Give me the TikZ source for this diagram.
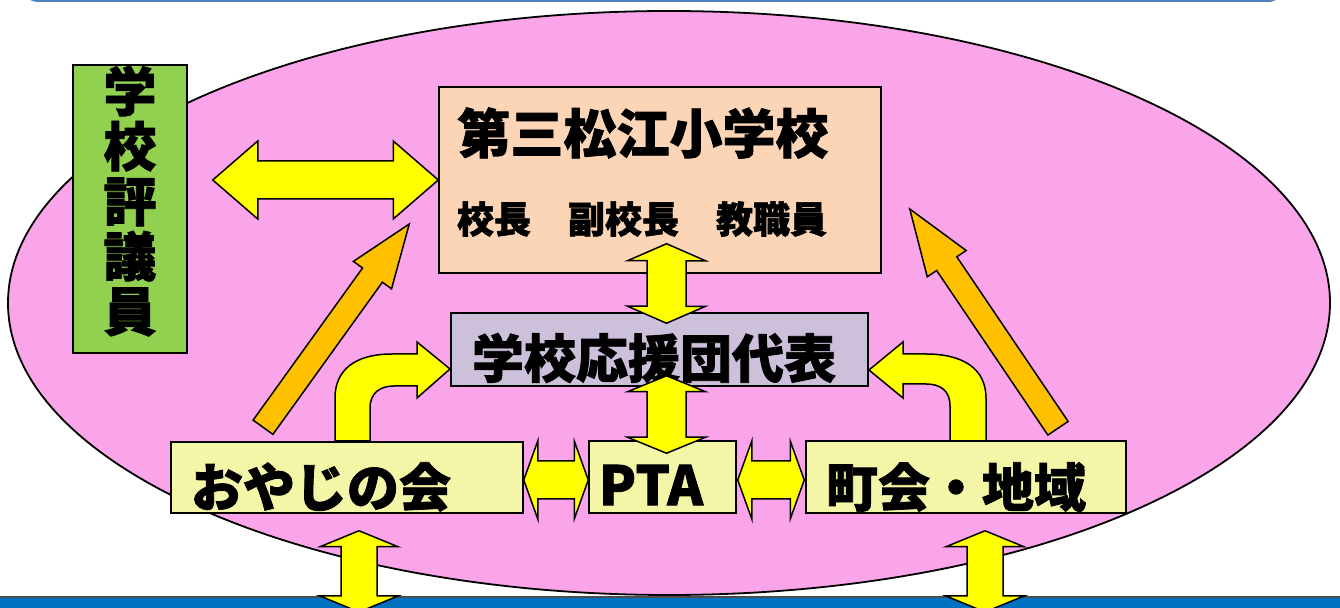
\documentclass[tikz,border=0pt]{standalone}
\usepackage{fontspec}
\usetikzlibrary{calc}
\newfontfamily\cjk{Noto Sans CJK JP}[BoldFeatures={FakeBold=1.5}]
\definecolor{pinkbg}{RGB}{250,165,233}
\definecolor{peach}{RGB}{251,213,181}
\definecolor{lav}{RGB}{204,192,218}
\definecolor{paley}{RGB}{242,246,166}
\definecolor{grn}{RGB}{146,208,80}
\definecolor{orng}{RGB}{255,192,0}
\definecolor{yel}{RGB}{255,255,0}
\definecolor{botblue}{RGB}{0,112,192}
\definecolor{topblue}{RGB}{79,129,189}
% point at distance #1 px along the axis and #2 px across it
\newcommand\AP[2]{({\x1+(#1)*\x3-(#2)*\y3},{\y1+(#1)*\y3+(#2)*\x3})}
\newcommand\dblarr[6][]{%
  \path[#1] let \p1=#2, \p2=#3, \n1={veclen(\x2-\x1,\y2-\y1)}, \n2={2*\n1},
    \p3=({0.5pt*(\x2-\x1)/\n1},{0.5pt*(\y2-\y1)/\n1}) in
    \AP{0}{0} -- \AP{#4}{#5} -- \AP{#4}{#6} -- \AP{\n2-#4}{#6} -- \AP{\n2-#4}{#5}
    -- \AP{\n2}{0} -- \AP{\n2-#4}{-#5} -- \AP{\n2-#4}{-#6} -- \AP{#4}{-#6} -- \AP{#4}{-#5} -- cycle;}
\newcommand\sglarr[6][]{%
  \path[#1] let \p1=#2, \p2=#3, \n1={veclen(\x2-\x1,\y2-\y1)}, \n2={2*\n1},
    \p3=({0.5pt*(\x2-\x1)/\n1},{0.5pt*(\y2-\y1)/\n1}) in
    \AP{0}{#6} -- \AP{\n2-#4}{#6} -- \AP{\n2-#4}{#5} -- \AP{\n2}{0}
    -- \AP{\n2-#4}{-#5} -- \AP{\n2-#4}{-#6} -- \AP{0}{-#6} -- cycle;}
\begin{document}
\begin{tikzpicture}[x=0.5pt,y=-0.5pt,
  box/.style={draw=black, line width=0.75pt, inner sep=0pt},
  yarrow/.style={fill=yel, draw=black, line width=0.75pt, line join=miter},
  oarrow/.style={fill=orng, draw=black, line width=0.75pt, line join=miter},
  bigtxt/.style={inner sep=0pt, font=\cjk\bfseries\fontsize{26.5}{27.5}\selectfont},
  smalltxt/.style={inner sep=0pt, font=\cjk\bfseries\fontsize{18.5}{20}\selectfont}]
\useasboundingbox (0,0) rectangle (1340,608);
% bars and ellipse
\fill[topblue, rounded corners=8pt] (22,-40) rectangle (1284,2);
\fill[botblue] (0,597) rectangle (1340,620);
\draw[black!70, line width=1pt] (0,597) -- (1340,597);
\draw[fill=pinkbg, line width=0.9pt] (669,303) ellipse [x radius=661, y radius=292];
% boxes
\node[box, fill=grn, minimum width=57pt, minimum height=144pt] (hyogi) at (130,209) {};
\node[box, fill=peach, minimum width=221pt, minimum height=93pt] (school) at (660,180) {};
\node[box, fill=lav, minimum width=208.5pt, minimum height=36.5pt] (support) at (659.5,349.5) {};
\node[box, fill=paley, minimum width=176pt, minimum height=35.5pt] (oyaji) at (347,477.5) {};
\node[box, fill=paley, minimum width=73.5pt, minimum height=36pt] (pta) at (662.5,477) {};
\node[box, fill=paley, minimum width=160pt, minimum height=36pt] (chokai) at (966,477) {};
% texts
\node[bigtxt, align=center] (hyogiT) at (130,201) {学\\校\\評\\議\\員};
\node[bigtxt] (schoolT) at (643,133) {第三松江小学校};
\node[smalltxt] (schoolS) at (642,219) {校長　副校長　教職員};
\node[bigtxt, font=\cjk\bfseries\fontsize{26}{27}\selectfont] (supportT) at (654,358) {学校応援団代表};
\node[bigtxt, font=\cjk\bfseries\fontsize{26}{27}\selectfont] (oyajiT) at (321,487) {おやじの会};
\node[bigtxt, font=\cjk\bfseries\fontsize{27}{28}\selectfont] (ptaT) at (651,485) {PTA};
\node[bigtxt, font=\cjk\bfseries\fontsize{26}{27}\selectfont] (chokaiT) at (956,487) {町会・地域};
% free ends of the outward arrows
\coordinate (outL) at (359,612);
\coordinate (outR) at (985,612);
% straight double arrows
\dblarr[yarrow]{($(hyogi.east)+(25,-29)$)}{(school.west)}{45}{39}{19}
\dblarr[yarrow]{($(school.south)+(6.6,-30)$)}{($(support.north)+(7,11)$)}{17}{39}{19.5}
\dblarr[yarrow]{($(support.south)+(7,-11)$)}{($(pta.north)+(4,13)$)}{16}{39}{19.5}
\dblarr[yarrow]{($(oyaji.east)+(0,2.5)$)}{($(pta.west)+(0,3)$)}{14}{39}{19}
\dblarr[yarrow]{($(pta.east)+(1,3)$)}{($(chokai.west)+(-1,3)$)}{14}{39}{19}
\dblarr[yarrow]{($(oyaji.south)+(12,17)$)}{(outL)}{16}{39}{18}
\dblarr[yarrow]{($(chokai.south)+(19,17)$)}{(outR)}{16}{39}{18}
% orange arrows
\sglarr[oarrow]{($(oyaji.north)+(-84,-14)$)}{($(school.west)+(-29,44)$)}{63}{23.5}{12.2}
\sglarr[oarrow]{($(chokai.north)+(92,-12)$)}{($(school.east)+(28,29)$)}{66}{23.5}{12.2}
% curved arrows
\draw[yarrow] (335,441) -- (335,398) .. controls (335,370) and (355,354) .. (392,354)
  -- (417,354) -- (417,342) -- (450,369) -- (417,398) -- (417,386) -- (394,386)
  .. controls (380,386) and (370,393) .. (370,408) -- (370,441) -- cycle;
\draw[yarrow] (986,441) -- (986,398) .. controls (986,368) and (962,354) .. (926,354)
  -- (903,354) -- (903,342) -- (869,370) -- (903,398) -- (903,384) -- (926,384)
  .. controls (941,384) and (950,391) .. (950,406) -- (950,441) -- cycle;
\end{tikzpicture}
\end{document}
